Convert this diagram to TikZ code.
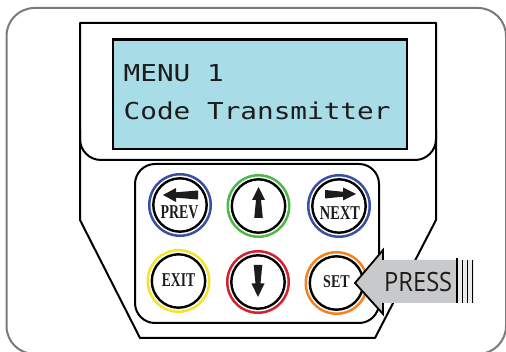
\documentclass[tikz,border=0pt]{standalone}
\usepackage{fontspec}
\newfontfamily\lcdfont{DejaVu Sans Mono}
\newfontfamily\btnfont{Liberation Serif}
\newfontfamily\pressfont{Open Sans}
\definecolor{framegray}{HTML}{7A7A7A}
\definecolor{lcdblue}{HTML}{A8DCE6}
\definecolor{cblue}{HTML}{3A4FA3}
\definecolor{cgreen}{HTML}{4DB848}
\definecolor{cyellow}{HTML}{F4E22C}
\definecolor{cred}{HTML}{D0232E}
\definecolor{corange}{HTML}{F58220}
\definecolor{arrowgray}{HTML}{C8C9CA}
\definecolor{ink}{HTML}{1E1B1C}
\begin{document}
\begin{tikzpicture}[x=1pt,y=-1pt,
  outline/.style={draw=black,line width=2pt,line join=round},
  ring/.style={circle,inner sep=0,minimum size=61.5pt,line width=2.5pt},
  inner/.style={circle,inner sep=0,minimum size=53.4pt,draw=black,line width=2.4pt},
  btntext/.style={font=\btnfont\bfseries\fontsize{19.6}{20}\selectfont,anchor=base,inner sep=0,text=ink},
  lcdtext/.style={font=\lcdfont\fontsize{27.7}{30}\selectfont,anchor=base west,inner sep=0,text=ink},
  glyph/.style={fill=ink,draw=none}]
\useasboundingbox (0,0) rectangle (506,352);
% outer frame
\draw[framegray,line width=2pt,rounded corners=28pt] (6.5,8) rectangle (506,354);
% device body
\draw[outline] (80,23) -- (436,23) -- (436,220) -- (375,338) -- (140,338) -- (80,220) -- cycle;
% bezel
\draw[outline,rounded corners=21pt] (80,130) -- (80,160) -- (436,160) -- (436,130);
% LCD
\node[draw=black,line width=2.2pt,fill=lcdblue,minimum width=294pt,minimum height=109.5pt,inner sep=0,anchor=north west] (lcd) at (111.5,38.5) {};
\node[lcdtext] (line1) at (123.5,82) {\scalebox{1}[0.84]{MENU 1}};
\node[lcdtext] (line2) at (123.5,119.5) {\scalebox{1}[0.84]{Code Transmitter}};
% keypad
\draw[outline,rounded corners=20pt] (135,164) rectangle (379,323);
% buttons
\node[ring,draw=cblue] (prevring) at (180,205) {};
\node[inner] (prev) at (180,205) {};
\node[ring,draw=cgreen] (upring) at (258.5,206) {};
\node[inner] (up) at (258.5,206) {};
\node[ring,draw=cblue] (nextring) at (339,206) {};
\node[inner] (next) at (339,206) {};
\node[ring,draw=cyellow] (exitring) at (178.5,281) {};
\node[inner] (exit) at (178.5,281) {};
\node[ring,draw=cred] (downring) at (258,282) {};
\node[inner] (down) at (258,282) {};
\node[ring,draw=corange] (setring) at (336.5,283) {};
\node[inner] (set) at (336.5,283) {};
% button glyphs
\fill[glyph] (163,195) -- (176,188) -- (176,192.3) -- (198,190.5) -- (198,199.5) -- (176,197.7) -- (176,202) -- cycle;
\fill[glyph] (356,194) -- (343,187.5) -- (343,191.8) -- (325,190) -- (325,198.5) -- (343,196.7) -- (343,200.5) -- cycle;
\fill[glyph] (258.5,187) -- (265,200) -- (261,200) -- (262.8,218) -- (254.2,218) -- (256,200) -- (252,200) -- cycle;
\fill[glyph] (258,297) -- (264.5,283.5) -- (260.5,283.5) -- (262.3,265) -- (253.7,265) -- (255.5,283.5) -- (251.5,283.5) -- cycle;
% button labels
\node[btntext] (prevlbl) at (179.5,218.5) {\scalebox{0.71}[1]{PREV}};
\node[btntext] (nextlbl) at (340,219.5) {\scalebox{0.735}[1]{NEXT}};
\node[btntext] (exitlbl) at (178.5,286.5) {\scalebox{0.69}[1]{EXIT}};
\node[btntext,font=\btnfont\bfseries\fontsize{18}{20}\selectfont] (setlbl) at (336.5,288) {\scalebox{0.78}[1]{SET}};
% PRESS arrow
\fill[arrowgray] (355,283) -- (383,250) -- (383,260) -- (457,260) -- (457,303) -- (383,303) -- (383,314) -- cycle;
\fill[black!8] (457,260) rectangle (474,303);
\draw[black,line width=1.8pt,line join=miter] (383,260) -- (383,250) -- (355,283) -- (383,314) -- (383,303);
\draw[black,line width=2pt] (457,258) -- (457,303);
\draw[black,line width=1.4pt] (462.5,260) -- (462.5,303);
\draw[black,line width=1pt] (467.5,260) -- (467.5,303);
\draw[black,line width=1.6pt] (472.5,260) -- (472.5,303);
\node[font=\pressfont\fontsize{26.6}{28}\selectfont,anchor=base west,inner sep=0,text=ink] (presslbl) at (384,292) {\scalebox{0.89}[1]{PRESS}};
\end{tikzpicture}
\end{document}
